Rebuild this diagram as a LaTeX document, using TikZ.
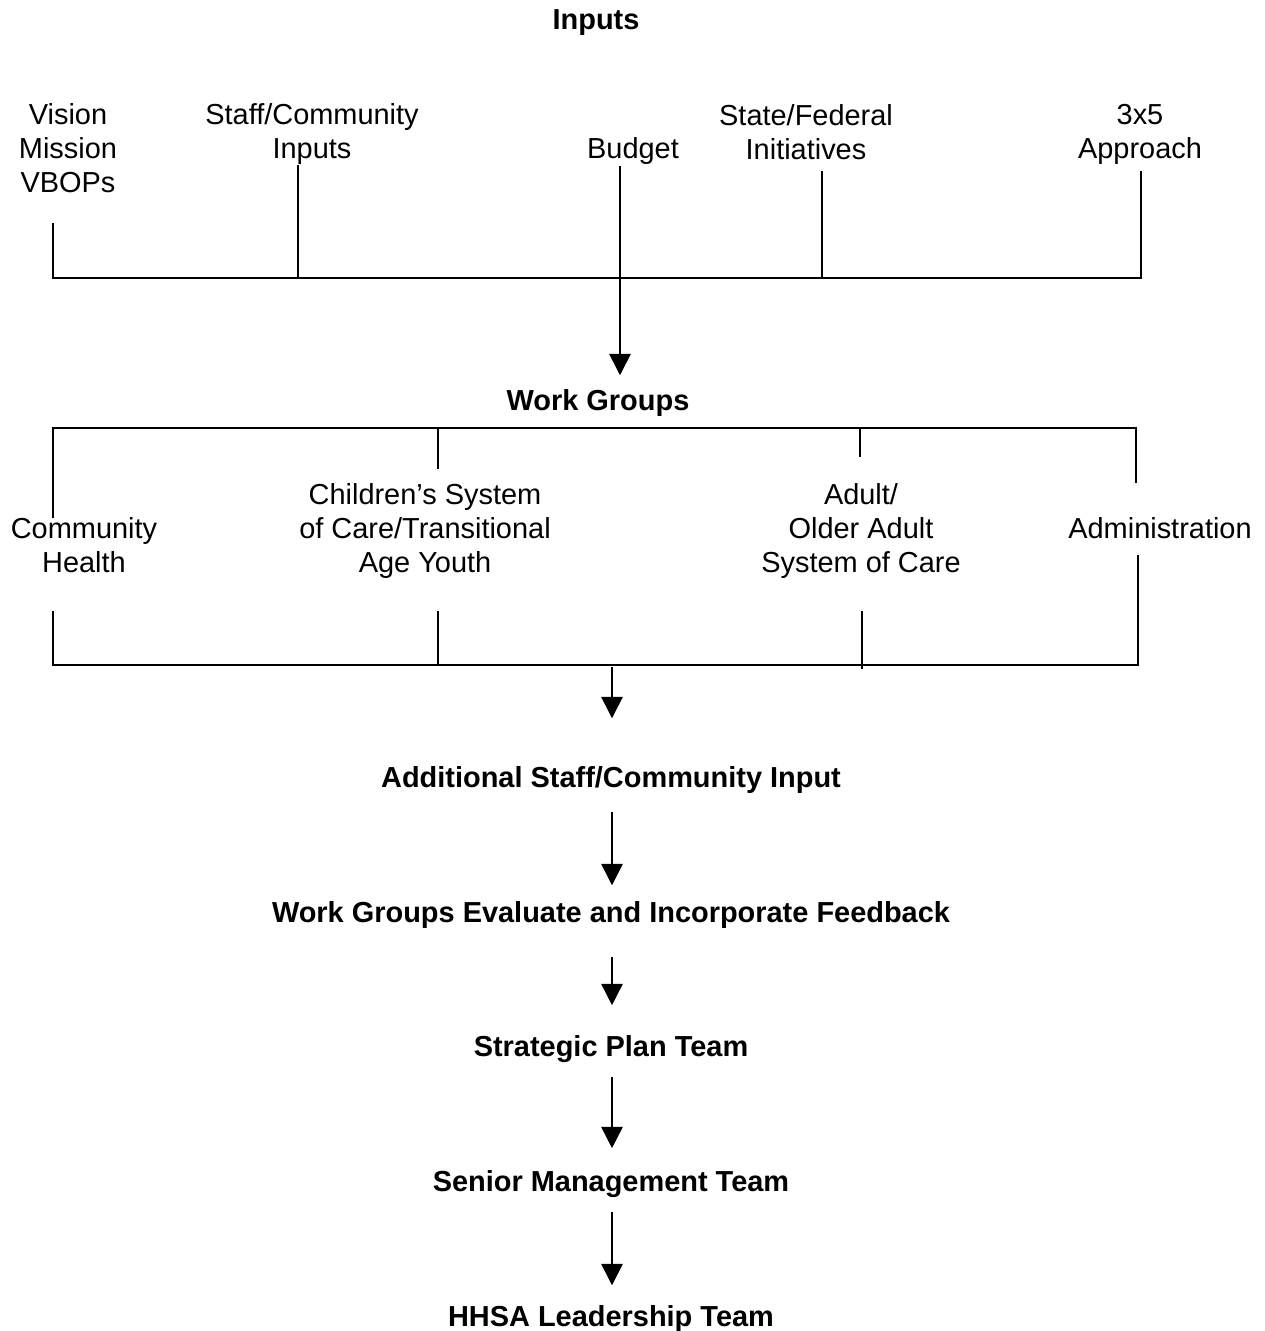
\documentclass[tikz,border=0pt]{standalone}
\usepackage{fontspec}
\setmainfont{Liberation Sans}
\usetikzlibrary{arrows.meta}
\begin{document}
\begin{tikzpicture}[x=0.75pt,y=-0.75pt,
  lbl/.style={inner sep=0pt,align=center,font=\fontsize{21.7pt}{25.5pt}\selectfont},
  hdr/.style={lbl,font=\fontsize{21.7pt}{25.5pt}\selectfont\bfseries},
  ln/.style={line width=1.2pt,line cap=rect},
  arr/.style={line width=1.2pt,-{Triangle[width=16pt,length=16pt]}}]
\useasboundingbox (0,0) rectangle (1264,1331);
% Inputs
\node[hdr] (inputs) at (596,23) {Inputs};
\node[lbl] (vis) at (68,148) {Vision\\Mission\\VBOPs};
\node[lbl] (staff) at (312,134) {Staff/Community\\Inputs};
\node[lbl] (budget) at (633,151) {Budget};
\node[lbl] (state) at (806,132) {State/Federal\\Initiatives};
\node[lbl] (appr) at (1140,134) {3x5\\Approach};
\coordinate (t1) at (53,224);
\coordinate (t2) at (298,166);
\coordinate (t3) at (620,166);
\coordinate (t4) at (822,172);
\coordinate (t5) at (1141,172);
\coordinate (b1) at (53,278);
\coordinate (b2) at (298,278);
\coordinate (b4) at (822,278);
\coordinate (b5) at (1141,278);
\draw[ln] (t1) -- (b1) -- (b5) -- (t5);
\draw[ln] (t2) -- (b2);
\draw[ln] (t4) -- (b4);
% Work groups
\node[hdr] (wg) at (598,403) {Work Groups};
\draw[arr,shorten >={14*0.75pt}] (t3) -- (wg.north -| t3);
\node[lbl] (ch) at (84,545) {Community\\Health};
\node[lbl] (cs) at (425,531) {Children’s System\\of Care/Transitional\\Age Youth};
\node[lbl] (ad) at (861,531) {Adult/\\Older Adult\\System of Care};
\node[lbl] (adm) at (1160,528) {Administration};
\coordinate (u1) at (53,428);
\coordinate (u2) at (438,428);
\coordinate (u3) at (860,428);
\coordinate (u4) at (1136,428);
\coordinate (d1) at (53,517);
\coordinate (d2) at (438,468);
\coordinate (d3) at (860,456);
\coordinate (d4) at (1136,482);
\draw[ln] (d1) -- (u1) -- (u4) -- (d4);
\draw[ln] (u2) -- (d2);
\draw[ln] (u3) -- (d3);
\coordinate (e1) at (53,612);
\coordinate (e2) at (438,612);
\coordinate (e3) at (862,612);
\coordinate (e4) at (1138,556);
\coordinate (f1) at (53,665);
\coordinate (f2) at (438,665);
\coordinate (f3) at (862,668);
\coordinate (f4) at (1138,665);
\coordinate (fm) at (612,665);
\draw[ln] (e1) -- (f1) -- (f4) -- (e4);
\draw[ln] (e2) -- (f2);
\draw[ln] (e3) -- (f3);
% chain
\node[hdr] (add) at (611,780) {Additional Staff/Community Input};
\node[hdr] (eval) at (611,915) {Work Groups Evaluate and Incorporate Feedback};
\node[hdr] (spt) at (611,1049) {Strategic Plan Team};
\node[hdr] (smt) at (611,1184) {Senior Management Team};
\node[hdr] (hhsa) at (611,1319) {HHSA Leadership Team};
\draw[arr,shorten <={2*0.75pt},shorten >={48*0.75pt}] (fm) -- (add.north -| fm);
\draw[arr,shorten <={18*0.75pt},shorten >={16*0.75pt}] (add.south -| fm) -- (eval.north -| fm);
\draw[arr,shorten <={28*0.75pt},shorten >={30*0.75pt}] (eval.south -| fm) -- (spt.north -| fm);
\draw[arr,shorten <={14*0.75pt},shorten >={22*0.75pt}] (spt.south -| fm) -- (smt.north -| fm);
\draw[arr,shorten <={14*0.75pt},shorten >={20*0.75pt}] (smt.south -| fm) -- (hhsa.north -| fm);
\end{tikzpicture}
\end{document}
